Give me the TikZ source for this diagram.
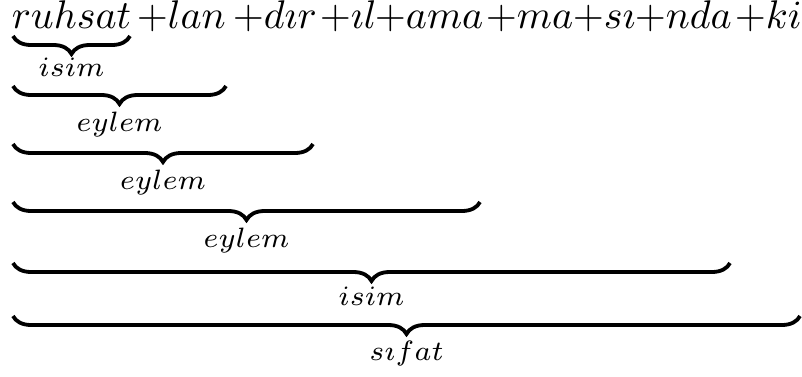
\documentclass[tikz,border=0pt]{standalone}
\usetikzlibrary{decorations.pathreplacing}
\tikzset{
  word/.style={inner sep=0pt, anchor=base west},
  lbl/.style={inner sep=0pt, anchor=base},
  ubrace/.style={decorate, decoration={brace, mirror, amplitude=4.5pt}, line width=0.95pt},
}
\begin{document}
\begin{tikzpicture}[x=0.25pt,y=-0.25pt]
\useasboundingbox (0,0) rectangle (802,376);
% top line
\node[word] (w0) at (11,28) {$ruhsat$};
\node[word] (w1) at (136,28) {$+lan$};
\node[word] (w2) at (232,28) {$+d\imath r$};
\node[word] (w3) at (319,28) {$+\imath l$};
\node[word] (w4) at (374,28) {$+ama$};
\node[word] (w5) at (485,28) {$+ma$};
\node[word] (w6) at (572,28) {$+s\imath$};
\node[word] (w7) at (634,28) {$+nda$};
\node[word] (w8) at (734,28) {$+ki$};
% brace end points
\coordinate (b1l) at (13,36);  \coordinate (b1r) at (130,36);
\coordinate (b2l) at (13,86);  \coordinate (b2r) at (226,86);
\coordinate (b3l) at (13,144); \coordinate (b3r) at (313,144);
\coordinate (b4l) at (13,202); \coordinate (b4r) at (480,202);
\coordinate (b5l) at (13,263); \coordinate (b5r) at (730,263);
\coordinate (b6l) at (13,316); \coordinate (b6r) at (800,316);
% braces
\draw[ubrace] (b1l) -- (b1r);
\draw[ubrace] (b2l) -- (b2r);
\draw[ubrace] (b3l) -- (b3r);
\draw[ubrace] (b4l) -- (b4r);
\draw[ubrace] (b5l) -- (b5r);
\draw[ubrace] (b6l) -- (b6r);
% labels
\node[lbl] (l1) at (71.5,76)  {$\scriptstyle isim$};
\node[lbl] (l2) at (119.5,131) {$\scriptstyle eylem$};
\node[lbl] (l3) at (163,189)  {$\scriptstyle eylem$};
\node[lbl] (l4) at (246.5,247) {$\scriptstyle eylem$};
\node[lbl] (l5) at (371.5,305) {$\scriptstyle isim$};
\node[lbl] (l6) at (406.5,360) {$\scriptstyle s\imath fat$};
\end{tikzpicture}
\end{document}
